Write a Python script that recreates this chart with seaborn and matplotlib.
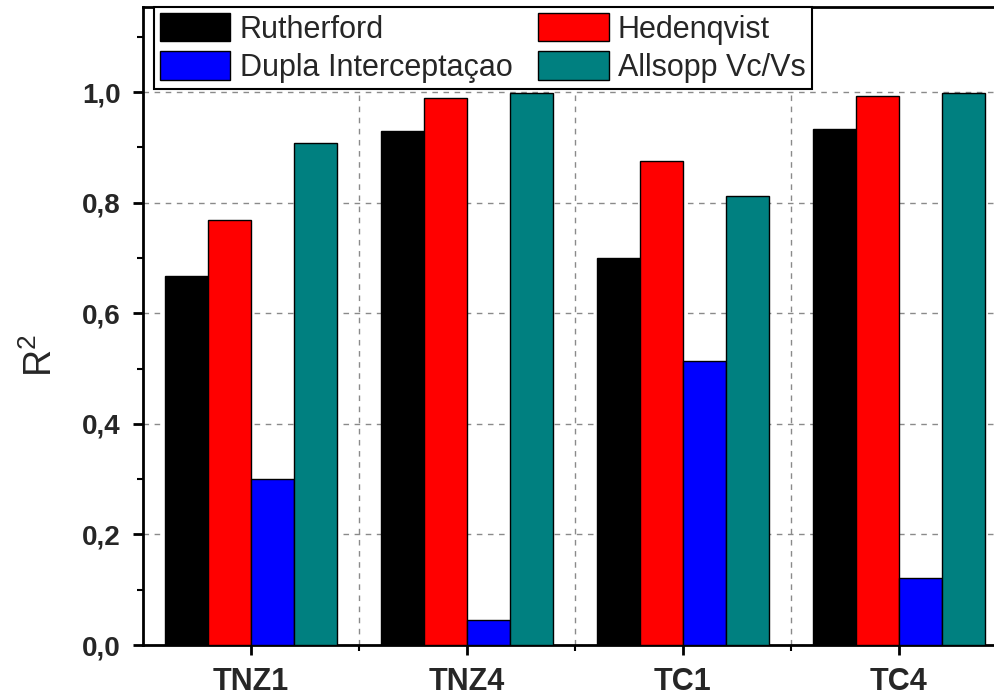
import matplotlib
matplotlib.use("Agg")
import matplotlib.pyplot as plt
import matplotlib.ticker as mticker
from matplotlib.patches import Patch
import seaborn as sns
import pandas as pd

# ---- data ----
samples = ["TNZ1", "TNZ4", "TC1", "TC4"]
methods = ["Rutherford", "Hedenqvist", "Dupla Interceptaçao", "Allsopp Vc/Vs"]
rutherford = [0.667, 0.929, 0.700, 0.933]
hedenqvist = [0.768, 0.989, 0.875, 0.993]
dupla = [0.300, 0.046, 0.514, 0.121]
allsopp = [0.908, 0.998, 0.812, 0.998]
colors = ["#000000", "#FF0000", "#0000FF", "#008080"]

rows = []
for m, vals in zip(methods, [rutherford, hedenqvist, dupla, allsopp]):
    for s, v in zip(samples, vals):
        rows.append({"sample": s, "method": m, "R2": v})
df = pd.DataFrame(rows)

sns.set_style("ticks")
plt.rcParams["font.family"] = ["Liberation Sans", "DejaVu Sans"]
plt.rcParams["mathtext.fontset"] = "custom"
plt.rcParams["mathtext.rm"] = "Liberation Sans"
plt.rcParams["mathtext.it"] = "Liberation Sans"

fig = plt.figure(figsize=(9.95, 6.99), dpi=100)
ax = fig.add_axes([143 / 995, (699 - 645) / 699, 864 / 995, 638 / 699])

sns.barplot(data=df, x="sample", y="R2", hue="method", order=samples,
            hue_order=methods, palette=colors, width=0.8, saturation=1,
            edgecolor="black", linewidth=1, legend=False, ax=ax, zorder=3)

ax.set_xlim(-0.5, 3.5)
ax.set_ylim(0, 1.154)

ax.yaxis.set_major_locator(mticker.MultipleLocator(0.2))
ax.yaxis.set_minor_locator(mticker.MultipleLocator(0.1))
ax.yaxis.set_major_formatter(mticker.FuncFormatter(lambda v, p: f"{v:.1f}".replace(".", ",")))
ax.xaxis.set_minor_locator(mticker.FixedLocator([0.5, 1.5, 2.5]))

ax.set_axisbelow(True)
ax.yaxis.grid(True, which="major", linestyle=(0, (4, 4)), color="#8a8a8a", linewidth=1)
ax.xaxis.grid(True, which="minor", linestyle=(0, (4, 4)), color="#8a8a8a", linewidth=1)
ax.xaxis.grid(False, which="major")

for sp in ax.spines.values():
    sp.set_linewidth(2)
    sp.set_color("black")
    sp.set_visible(True)

ax.tick_params(axis="both", which="major", direction="out", length=7, width=2, color="black")
ax.tick_params(axis="both", which="minor", direction="out", length=4, width=1.5, color="black")
ax.tick_params(axis="y", which="major", labelsize=20, pad=9)
ax.tick_params(axis="x", which="major", labelsize=22, pad=9)
for lab in ax.get_xticklabels() + ax.get_yticklabels():
    lab.set_fontweight("bold")

ax.set_xlabel("")
ax.set_ylabel(r"R$^2$", fontsize=27)
ax.yaxis.set_label_coords(-0.096, 0.453)

handles = [Patch(facecolor=c, edgecolor="black", linewidth=1) for c in colors]
order = [0, 2, 1, 3]
leg = ax.legend([handles[i] for i in order], [methods[i] for i in order],
                ncol=2, loc="upper left", bbox_to_anchor=(0.0127, 1.0),
                borderaxespad=0, fontsize=22, frameon=True, fancybox=False,
                handlelength=2.3, handleheight=1.05, handletextpad=0.3,
                columnspacing=0.85, labelspacing=0.22, borderpad=0.2)
leg.get_frame().set_edgecolor("black")
leg.get_frame().set_linewidth(1.5)
leg.get_frame().set_alpha(1)
leg.set_zorder(5)

fig.savefig("out.png", dpi=100)
